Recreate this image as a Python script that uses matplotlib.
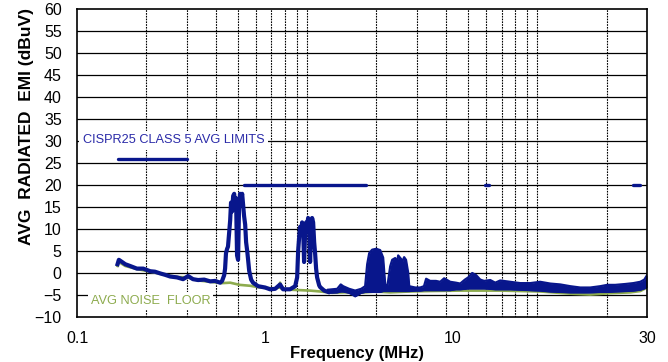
import matplotlib
matplotlib.use("Agg")
import matplotlib.pyplot as plt

plt.rcParams['font.family'] = ['Liberation Sans', 'DejaVu Sans']

# measured trace (MHz, dBuV) - low band incl. the two big spurs
trace_f = [0.150, 0.152, 0.157, 0.162, 0.170, 0.182, 0.194, 0.208, 0.218, 0.230,
           0.241, 0.254, 0.272, 0.289, 0.304, 0.319, 0.336, 0.357, 0.379, 0.398,
           0.419, 0.427, 0.436, 0.440, 0.444, 0.449, 0.453, 0.458, 0.463, 0.467,
           0.472, 0.477, 0.482, 0.486, 0.491, 0.496, 0.501, 0.506, 0.511, 0.516,
           0.522, 0.527, 0.532, 0.538, 0.543, 0.549, 0.554, 0.560, 0.571, 0.582,
           0.612, 0.657, 0.690, 0.726, 0.763, 0.786, 0.843, 0.887, 0.905, 0.914,
           0.923, 0.932, 0.942, 0.951, 0.961, 0.970, 0.980, 0.990, 1.000, 1.010,
           1.020, 1.030, 1.041, 1.051, 1.062, 1.073, 1.083, 1.094, 1.105, 1.128,
           1.139, 1.186, 1.234]
trace_db = [2.0, 3.0, 2.5, 2.0, 1.6, 1.0, 1.0, 0.4, 0.3, -0.1,
            -0.4, -0.8, -1.0, -1.4, -0.7, -1.4, -1.6, -1.5, -1.9, -1.8,
            -2.2, -1.8, -0.5, 1.0, 4.5, 5.5, 6.0, 9.0, 12.0, 16.0,
            14.0, 17.5, 18.0, 15.0, 17.0, 4.0, 3.0, 15.0, 18.0, 16.5,
            18.0, 15.5, 13.0, 11.0, 7.0, 5.0, 3.0, 0.5, -1.5, -2.2,
            -3.0, -3.3, -3.7, -3.6, -2.6, -3.7, -3.7, -3.0, -1.0, 5.0,
            8.0, 10.5, 9.0, 11.5, 10.0, 2.5, 9.0, 11.5, 10.5, 12.5,
            11.0, 2.5, 10.0, 12.5, 11.5, 7.0, 4.5, 1.0, -1.0, -2.8,
            -3.2, -4.0, -4.3]

# dense part of the trace: min / max envelope
band_f = [1.234, 1.351, 1.400, 1.434, 1.523, 1.617, 1.717, 1.787, 1.824, 1.861,
          1.917, 1.996, 2.077, 2.140, 2.184, 2.228, 2.296, 2.342, 2.414, 2.460,
          2.487, 2.560, 2.588, 2.640, 2.690, 2.750, 2.777, 2.949, 3.099, 3.220,
          3.290, 3.425, 3.630, 3.787, 3.940, 4.185, 4.430, 4.626, 4.850, 5.012,
          5.217, 5.430, 5.652, 5.880, 6.248, 6.570, 6.904, 7.630, 8.434, 9.324,
          10.30, 11.39, 12.59, 13.92, 15.38, 17.00, 18.79, 20.15, 21.83, 24.13,
          26.15, 28.04, 29.19, 30.0]
band_lo = [-4.6, -4.5, -4.3, -4.3, -4.6, -5.4, -4.6, -4.4, -4.4, -4.4,
           -4.4, -4.4, -4.4, -4.2, -4.2, -4.2, -4.2, -4.2, -4.2, -4.2,
           -4.2, -4.2, -4.2, -4.2, -4.2, -4.2, -4.2, -4.1, -4.1, -4.0,
           -4.0, -4.0, -4.0, -4.0, -4.0, -4.0, -3.8, -3.8, -3.7, -3.6,
           -3.6, -3.6, -3.6, -3.6, -3.7, -3.8, -3.8, -3.8, -3.9, -4.0,
           -4.1, -4.3, -4.4, -4.5, -4.5, -4.5, -4.4, -4.4, -4.3, -4.2,
           -4.1, -3.9, -3.6, -3.3]
band_hi = [-3.8, -3.6, -2.6, -3.0, -3.6, -4.0, -3.6, -3.0, 2.0, 4.5,
           5.3, 5.5, 5.2, 3.5, -2.5, -3.3, 1.5, 3.0, 3.4, 2.5,
           4.0, 3.2, 2.5, 3.6, 3.0, 0.0, -3.0, -3.3, -3.3, -3.0,
           -1.3, -1.8, -1.8, -2.0, -1.2, -2.0, -2.2, -2.4, -1.5, -1.0,
           0.0, -0.5, -1.5, -1.8, -1.6, -2.2, -1.7, -2.0, -2.3, -2.3,
           -2.0, -2.4, -2.6, -3.0, -3.3, -3.3, -3.0, -2.7, -2.7, -2.5,
           -2.3, -2.0, -1.5, -0.5]

# average noise floor
floor_f = [0.150, 0.152, 0.162, 0.182, 0.208, 0.241, 0.272, 0.304, 0.336, 0.379,
           0.427, 0.463, 0.510, 0.565, 0.612, 0.657, 0.726, 0.756, 0.763, 0.770,
           0.843, 0.932, 1.030, 1.139, 1.285, 1.460, 1.700, 1.976, 2.296, 2.800,
           3.425, 4.626, 6.904, 10.30, 13.92, 17.00, 20.70, 25.40, 28.04, 30.0]
floor_db = [1.6, 2.5, 1.6, 0.9, 0.3, -0.4, -0.9, -1.0, -1.7, -2.0,
            -2.3, -2.2, -2.7, -2.9, -3.2, -3.4, -3.5, -3.3, -2.2, -3.5,
            -3.8, -3.9, -4.0, -4.2, -4.5, -4.4, -4.5, -4.2, -4.4, -4.2,
            -4.1, -4.0, -4.0, -4.2, -4.7, -4.9, -4.6, -4.4, -4.1, -3.3]

# CISPR25 class 5 average limits (MHz start, MHz stop, dBuV)
limit_start = [0.15, 0.53, 5.9, 26.0]
limit_stop = [0.30, 1.8, 6.2, 28.0]
limit_db = [26, 20, 20, 20]

xtick_pos = [0.1, 0.657, 4.27, 30]
xtick_labels = ['0.1', '1', '10', '30']
grid_x = [0.2, 0.3, 0.4, 0.5, 0.6, 0.7, 0.8, 0.9, 1, 2, 3, 4, 5, 6, 7, 8, 9, 10, 20]

navy = '#08168c'
green = '#8dab4e'

fig = plt.figure(figsize=(6.68, 3.62), dpi=100)
ax = fig.add_axes([0.1153, 0.1243, 0.8533, 0.8508])
ax.set_xscale('log')
ax.set_xlim(0.1, 30)
ax.set_ylim(-10, 60)

for y in range(-5, 60, 5):
    ax.axhline(y, color='black', lw=0.9, zorder=1)
for x in grid_x:
    ax.axvline(x, color='black', lw=0.8, ls=(0, (1.5, 1.0)), zorder=1)

ax.plot(floor_f, floor_db, color=green, lw=1.9, zorder=3)
ax.plot(trace_f, trace_db, color=navy, lw=3.0, zorder=4)
ax.fill_between(band_f, band_lo, band_hi, color=navy, lw=0, zorder=4)
ax.plot(band_f, band_hi, color=navy, lw=1.6, zorder=4)
ax.plot(band_f, band_lo, color=navy, lw=1.0, zorder=4)

for s, e, v in zip(limit_start, limit_stop, limit_db):
    ax.plot([s, e], [v, v], color=navy, lw=2.4, solid_capstyle='round', zorder=5)

ax.text(0.106, 30.2, 'CISPR25 CLASS 5 AVG LIMITS', color='#2a2aa8', fontsize=9.2,
        va='center', ha='left', zorder=6,
        bbox=dict(facecolor='white', edgecolor='none', pad=2.5))
ax.text(0.115, -6.3, 'AVG NOISE  FLOOR', color=green, fontsize=9.2,
        va='center', ha='left', zorder=6,
        bbox=dict(facecolor='white', edgecolor='none', pad=2.0))

ax.set_yticks(range(-10, 61, 5))
ax.set_xticks(xtick_pos)
ax.set_xticklabels(xtick_labels)
ax.xaxis.set_minor_locator(matplotlib.ticker.NullLocator())
ax.tick_params(axis='both', length=0, labelsize=11.5)
ax.tick_params(axis='y', pad=11)
ax.tick_params(axis='x', pad=10)

for sp in ax.spines.values():
    sp.set_linewidth(1.2)
    sp.set_zorder(7)

ax.set_xlabel('Frequency (MHz)', fontsize=12, fontweight='bold', va='center')
ax.xaxis.set_label_coords(0.491, -0.117)
ax.set_ylabel('AVG  RADIATED  EMI (dBuV)', fontsize=12.5, fontweight='bold', va='center')
ax.yaxis.set_label_coords(-0.0895, 0.617)

fig.savefig('out.png', dpi=100)
